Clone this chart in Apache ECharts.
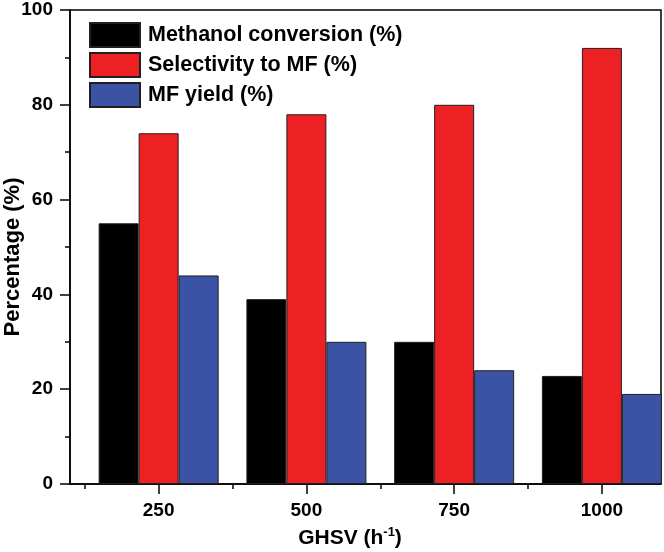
<!DOCTYPE html>
<html>
<head>
<meta charset="utf-8">
<script src="https://cdn.jsdelivr.net/npm/echarts@6/dist/echarts.min.js"></script>
<style>html,body{margin:0;padding:0;background:#fff}#c{width:664px;height:552px}</style>
</head>
<body>
<div id="c"></div>
<script>
var ghsv = [250, 500, 750, 1000];
var conversion = [55, 39, 30, 22.8];
var selectivity = [74, 78, 80, 92];
var yieldMF = [44, 30, 24, 19];
var seriesNames = ['Methanol conversion (%)', 'Selectivity to MF (%)', 'MF yield (%)'];
var minorX = [125, 375, 625, 875];

function pairs(v) { return ghsv.map(function (g, i) { return [g, v[i]]; }); }

var FONT = '"Liberation Sans", Arial, sans-serif';
var chart = echarts.init(document.getElementById('c'));
var barStyle = function (c) { return { color: c, borderColor: '#231f20', borderWidth: 1 }; };
chart.setOption({
  animation: false,
  grid: { left: 70, right: 3, top: 10, bottom: 68, containLabel: false, outerBoundsMode: 'none', show: true, borderColor: '#000', borderWidth: 1.5, backgroundColor: 'transparent' },
  legend: {
    orient: 'vertical', left: 89, top: 22, padding: 0, itemWidth: 50, itemHeight: 24, itemGap: 4,
    icon: 'rect',
    textStyle: { fontFamily: FONT, fontSize: 21.5, fontWeight: 'bold', color: '#000', padding: [0, 0, 0, 3] },
    data: seriesNames
  },
  xAxis: [{
    type: 'value', min: 100, max: 1100,
    axisLine: { show: true, lineStyle: { color: '#000', width: 1.5 } },
    axisTick: { show: true, length: 10, inside: false, customValues: ghsv, lineStyle: { color: '#000', width: 1.5 } },
    axisLabel: { customValues: ghsv, margin: 17, fontFamily: FONT, fontSize: 19, fontWeight: 'bold', color: '#000',
      formatter: function (v) { return String(v); } },
    splitLine: { show: false },
    name: '{a|GHSV (h}{s|-1}{a|)}', nameLocation: 'middle', nameGap: 42, nameMoveOverlap: false,
    nameTextStyle: { padding: [0, 31, 0, 0], rich: {
      a: { fontFamily: FONT, fontSize: 21, fontWeight: 'bold', color: '#000', lineHeight: 24 },
      s: { fontFamily: FONT, fontSize: 13, fontWeight: 'bold', color: '#000', lineHeight: 24, verticalAlign: 'top', padding: [0, 0, 8, 0] }
    } }
  }, {
    type: 'value', min: 100, max: 1100, position: 'bottom',
    axisLine: { show: false },
    axisTick: { show: true, length: 5, customValues: minorX, lineStyle: { color: '#000', width: 1.5 } },
    axisLabel: { show: false }, splitLine: { show: false }
  }],
  yAxis: {
    type: 'value', min: 0, max: 100, interval: 20,
    axisLine: { show: true, lineStyle: { color: '#000', width: 1.5 } },
    axisTick: { show: true, length: 10, lineStyle: { color: '#000', width: 1.5 } },
    minorTick: { show: true, splitNumber: 2, length: 5, lineStyle: { color: '#000', width: 1.5 } },
    axisLabel: { margin: 17, fontFamily: FONT, fontSize: 19, fontWeight: 'bold', color: '#000' },
    splitLine: { show: false },
    name: 'Percentage (%)', nameLocation: 'middle', nameGap: 46, nameMoveOverlap: false,
    nameTextStyle: { fontFamily: FONT, fontSize: 22, fontWeight: 'bold', color: '#000', padding: [0, 20, 0, 0] }
  },
  series: [
    { name: seriesNames[0], type: 'bar', data: pairs(conversion), barWidth: 40, barGap: '0%', clip: false, itemStyle: barStyle('#000000') },
    { name: seriesNames[1], type: 'bar', data: pairs(selectivity), barWidth: 40, barGap: '0%', clip: false, itemStyle: barStyle('#ed2024') },
    { name: seriesNames[2], type: 'bar', data: pairs(yieldMF), barWidth: 40, barGap: '0%', clip: false, itemStyle: barStyle('#3a53a4') }
  ]
});
</script>
</body>
</html>
